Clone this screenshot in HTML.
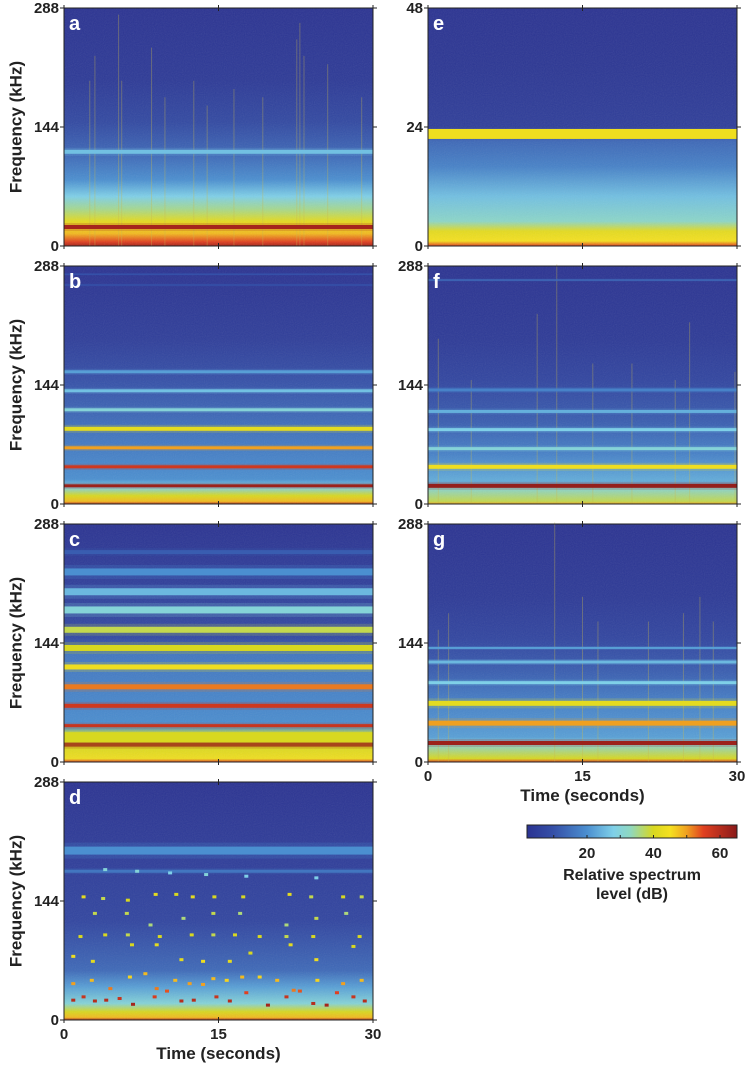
<!DOCTYPE html>
<html><head><meta charset="utf-8">
<style>
html,body{margin:0;padding:0;background:#fff;}
svg{display:block;font-family:"Liberation Sans",Arial,sans-serif;}
</style></head>
<body>
<svg id="fig" width="747" height="1068" viewBox="0 0 747 1068" xmlns="http://www.w3.org/2000/svg">
<defs id="defs"></defs>
</svg>
<script>
// ---------- data ----------
const panelLetters = ['a','b','c','d','e','f','g'];
const yTickLabelsStd = ['0','144','288'];
const yTickLabelsE = ['0','24','48'];
const xTickLabels = ['0','15','30'];
const cbarTickLabels = ['20','40','60'];
const cbarTicks = [10,20,30,40,50,60];

// background spectral profiles: frequency (kHz) and level (dB)
const profA_f = [0,5,15,30,45,60,80,110,150,200,288];
const profA_d = [62,55,48,42,35,28,20,14,8,4,2];
const profB_f = [0,3,10,20,30,80,150,200,288];
const profB_d = [60,48,40,28,20,16,10,5,2];
const profC_f = [0,4,20,35,40,130,150,288];
const profC_d = [55,44,40,38,20,16,8,2];
const profD_f = [0,3,10,20,40,60,120,288];
const profD_d = [62,48,40,30,22,14,7,2];
const profE_f = [0,1,3,5,10,16,21,24,36,48];
const profE_d = [55,45,42,32,26,18,14,5,3,2];
const profF_f = [0,3,20,25,60,100,150,200,288];
const profF_d = [50,38,30,24,18,12,7,4,2];
const profG_f = [0,4,22,30,70,110,150,200,288];
const profG_d = [55,40,30,22,18,12,7,4,2];

// tonal bands: frequency (kHz), level (dB)
const bandA_f = [23,114];
const bandA_d = [62,26];
const bandB_f = [22,45,68,91,114,137,160,265,278];
const bandB_d = [63,57,50,42,30,26,22,10,10];
const bandC_f = [21,30,44,68,91,115,138,160,184,206,230,254];
const bandC_d = [63,40,58,57,52,44,40,38,30,25,20,12];
const bandD_f = [180,205];
const bandD_d = [16,20];
const bandE_f = [22.6];
const bandE_d = [44];
const bandF_f = [22,45,67,90,112,138,271];
const bandF_d = [64,44,30,28,24,18,14];
const bandG_f = [23,47,71,96,121,138];
const bandG_d = [63,50,42,28,25,22];

// transient streaks: time (s), top freq (kHz)
const streakA_t = [2.5,3.0,5.3,5.6,8.5,9.8,12.6,13.9,16.5,19.3,22.6,22.9,23.3,25.6,28.9];
const streakA_top = [200,230,280,200,240,180,200,170,190,180,250,270,230,220,180];
const streakF_t = [1.0,4.2,10.6,12.5,16.0,19.8,24.0,25.4,29.8];
const streakF_top = [200,150,230,290,170,170,150,220,160];
const streakG_t = [1.0,2.0,12.3,15.0,16.5,21.4,24.8,26.4,27.7];
const streakG_top = [160,180,290,200,170,170,180,200,170];

// whistle contours in panel d: time (s), freq (kHz), level (dB)
const dotD_t = [0.9,1.9,3.0,4.1,5.4,6.7,8.8,10.0,11.4,12.6,13.5,14.8,16.1,17.7,19.8,21.6,22.9,24.2,25.5,26.5,28.1,29.2,
 0.9,2.7,4.5,6.4,7.9,9.0,10.8,12.2,14.5,15.8,17.3,19.0,20.7,22.3,24.6,27.1,28.9,
 0.9,2.8,6.6,9.0,11.4,13.5,16.1,18.1,22.0,24.5,28.1,
 1.6,4.0,6.2,9.3,12.4,14.5,16.6,19.0,21.6,24.2,28.7,
 3.0,6.1,8.4,11.6,14.5,17.1,21.6,24.5,27.4,
 1.9,3.8,6.2,8.9,10.9,12.5,14.6,17.4,21.9,24.0,27.1,28.9,
 4.0,7.1,10.3,13.8,17.7,24.5];
const dotD_f = [24,28,23,24,26,19,28,35,23,24,43,28,23,33,18,28,35,20,18,33,28,23,
 44,48,38,52,56,38,48,44,50,48,52,52,48,36,48,44,48,
 77,71,91,91,73,71,71,81,91,73,89,
 101,103,103,101,103,103,103,101,101,101,101,
 129,129,115,123,129,129,115,123,129,
 149,147,145,152,152,149,149,149,152,149,149,149,
 182,180,178,176,174,172];
const dotD_d = [60,58,60,60,58,62,56,54,60,60,50,58,60,55,62,58,54,60,62,55,58,60,
 50,48,52,46,48,52,48,50,48,46,48,46,48,52,46,50,48,
 44,42,40,42,42,44,42,40,42,44,40,
 40,40,38,40,40,38,40,40,38,40,40,
 38,38,36,36,38,36,36,38,36,
 42,38,40,42,40,42,40,40,42,38,40,38,
 30,30,28,30,28,28];

// ---------- helpers ----------
const SVGNS = 'http://www.w3.org/2000/svg';
const svg = document.getElementById('fig');
const defs = document.getElementById('defs');
function mk(tag, attrs, parent){
  const e = document.createElementNS(SVGNS, tag);
  for (const k in attrs) e.setAttribute(k, attrs[k]);
  (parent||svg).appendChild(e);
  return e;
}
const cmStops = [[0,[40,44,140]],[10,[53,80,168]],[20,[75,143,208]],[28,[127,208,232]],[33,[143,216,192]],[40,[216,216,32]],[45,[245,224,32]],[50,[240,160,32]],[55,[224,64,32]],[65,[139,26,26]]];
function cmap(v){
  if (v<=cmStops[0][0]) return rgb(cmStops[0][1]);
  for (let i=1;i<cmStops.length;i++){
    if (v<=cmStops[i][0]){
      const a=cmStops[i-1], b=cmStops[i], t=(v-a[0])/(b[0]-a[0]);
      return rgb(a[1].map((c,j)=>c+(b[1][j]-c)*t));
    }
  }
  return rgb(cmStops[cmStops.length-1][1]);
}
function rgb(a){return 'rgb('+a.map(x=>Math.round(x)).join(',')+')';}

// noise filter
const flt = mk('filter',{id:'noise',x:0,y:0,width:1,height:1},defs);
mk('feTurbulence',{type:'fractalNoise',baseFrequency:'0.9',numOctaves:1,seed:3,result:'n'},flt);
mk('feColorMatrix',{type:'saturate',values:0,in:'n',result:'m'},flt);
mk('feComposite',{in:'m',in2:'SourceGraphic',operator:'in'},flt);

// panel geometry
const PW = 309, PH = 238;
const panels = [
 {id:'a', x:64, y:8, fmax:288, pf:profA_f, pd:profA_d, bf:bandA_f, bd:bandA_d, st:streakA_t, stop:streakA_top, yl:yTickLabelsStd, ylab:true},
 {id:'b', x:64, y:266, fmax:288, pf:profB_f, pd:profB_d, bf:bandB_f, bd:bandB_d, yl:yTickLabelsStd, ylab:true},
 {id:'c', x:64, y:524, fmax:288, pf:profC_f, pd:profC_d, bf:bandC_f, bd:bandC_d, yl:yTickLabelsStd, ylab:true},
 {id:'d', x:64, y:782, fmax:288, pf:profD_f, pd:profD_d, bf:bandD_f, bd:bandD_d, yl:yTickLabelsStd, ylab:true, xlab:true, dots:true},
 {id:'e', x:428, y:8, fmax:48, pf:profE_f, pd:profE_d, bf:bandE_f, bd:bandE_d, yl:yTickLabelsE},
 {id:'f', x:428, y:266, fmax:288, pf:profF_f, pd:profF_d, bf:bandF_f, bd:bandF_d, st:streakF_t, stop:streakF_top, yl:yTickLabelsStd},
 {id:'g', x:428, y:524, fmax:288, pf:profG_f, pd:profG_d, bf:bandG_f, bd:bandG_d, st:streakG_t, stop:streakG_top, yl:yTickLabelsStd, xlab:true}
];
const bandW = {a:[4,4],b:[3,3,3,4,3,3,3,1.5,1.5],c:[4,10,3,4,5,5,6,6,7,7,7,4],d:[3,8],e:[10],f:[4,4,3,3,3,3,1.5],g:[4,5,5,3,3,2]};

panels.forEach(p=>{
  const g = mk('g',{});
  
  
  const yS = f => p.y + PH - f/p.fmax*PH;
  const xS = t => p.x + t/30*PW;
  const lg = mk('linearGradient',{id:'bg'+p.id,x1:0,y1:0,x2:0,y2:1},defs);
  for (let i=p.pf.length-1;i>=0;i--){
    mk('stop',{offset:(1-p.pf[i]/p.fmax).toFixed(4),'stop-color':cmap(p.pd[i])},lg);
  }
  const bg = mk('rect',{x:p.x,y:p.y,width:PW,height:PH,fill:'url(#bg'+p.id+')'},g);
  
  
  mk('rect',{x:p.x,y:p.y,width:PW,height:PH,fill:'url(#bg'+p.id+')',filter:'url(#noise)',opacity:0.12},g);
  if (p.st){
    p.st.forEach((t,i)=>{
      const l = mk('line',{x1:xS(t),x2:xS(t),y1:yS(0),y2:yS(p.stop[i]),stroke:'#c8b850','stroke-width':1,opacity:0.35},g);
      
      
    });
  }
  p.bf.forEach((f,i)=>{
    const w = bandW[p.id][i]||3, c = cmap(p.bd[i]);
    if (p.id!=='e') mk('rect',{x:p.x,y:yS(f)-w,width:PW,height:w*2,fill:c,opacity:0.2},g);
    const r = mk('rect',{x:p.x,y:yS(f)-w/2,width:PW,height:w,fill:c},g);
    
    
  });
  if (p.dots){
    dotD_t.forEach((t,i)=>{
      const r = mk('rect',{x:xS(t)-2,y:yS(dotD_f[i])-1.5,width:4,height:3,fill:cmap(dotD_d[i])},g);
      
      
    });
  }
  mk('rect',{x:p.x,y:p.y,width:PW,height:PH,fill:'none',stroke:'#222','stroke-width':1},g);
  [0,0.5,1].forEach((fr,i)=>{
    const yy = p.y+PH-fr*PH;
    mk('line',{x1:p.x-4,x2:p.x,y1:yy,y2:yy,stroke:'#222'},g);
    mk('line',{x1:p.x+PW,x2:p.x+PW+4,y1:yy,y2:yy,stroke:'#222'},g);
    const tx = mk('text',{x:p.x-5,y:yy+5,'text-anchor':'end','font-size':15,'font-weight':'bold',fill:'#222'},g);
    tx.textContent = p.yl[i];
    
    
  });
  [0,15,30].forEach((t,i)=>{
    mk('line',{x1:xS(t),x2:xS(t),y1:p.y-3,y2:p.y+3,stroke:'#222'},g);
    mk('line',{x1:xS(t),x2:xS(t),y1:p.y+PH-3,y2:p.y+PH+3,stroke:'#222'},g);
    if (p.xlab){
      const tx = mk('text',{x:xS(t),y:p.y+PH+19,'text-anchor':'middle','font-size':15,'font-weight':'bold',fill:'#222'},g);
      tx.textContent = xTickLabels[i];
      
      
    }
  });
  if (p.xlab){
    const tx = mk('text',{x:p.x+PW/2,y:p.y+PH+39,'text-anchor':'middle','font-size':17,'font-weight':'bold',fill:'#222'},g);
    tx.textContent = 'Time (seconds)';
    
    
  }
  if (p.ylab){
    const cy = p.y+PH/2;
    const tx = mk('text',{x:17,y:cy,transform:'rotate(-90 17 '+cy+')','text-anchor':'middle','dominant-baseline':'middle','font-size':17,'font-weight':'bold',fill:'#222'},g);
    tx.textContent = 'Frequency (kHz)';
    
    
  }
  const lt = mk('text',{x:p.x+5,y:p.y+22,'font-size':20,'font-weight':'bold',fill:'#fff'},g);
  lt.textContent = p.id;
  
  
});

// colorbar
const cbX = v => 587 + (v-20)*3.325;
const cb = mk('g',{});


const cg = mk('linearGradient',{id:'cbg',x1:0,y1:0,x2:1,y2:0},defs);
mk('stop',{offset:0,'stop-color':cmap(2)},cg);
cmStops.forEach(s=>{
  const off = (cbX(s[0])-527)/210;
  if (off>=0 && off<=1) mk('stop',{offset:off.toFixed(3),'stop-color':cmap(s[0])},cg);
});
mk('rect',{x:527,y:825,width:210,height:13,fill:'url(#cbg)',stroke:'#222','stroke-width':1},cb);
cbarTicks.forEach(v=>{
  mk('line',{x1:cbX(v),x2:cbX(v),y1:835,y2:838,stroke:'#222'},cb);
});
cbarTickLabels.forEach(s=>{
  const tx = mk('text',{x:cbX(+s),y:858,'text-anchor':'middle','font-size':15,'font-weight':'bold',fill:'#222'},cb);
  tx.textContent = s;
  
  
});
const t1 = mk('text',{x:632,y:880,'text-anchor':'middle','font-size':16,'font-weight':'bold',fill:'#222'},cb);
t1.textContent = 'Relative spectrum';


const t2 = mk('text',{x:632,y:899,'text-anchor':'middle','font-size':16,'font-weight':'bold',fill:'#222'},cb);
t2.textContent = 'level (dB)';


</script>
</body></html>
